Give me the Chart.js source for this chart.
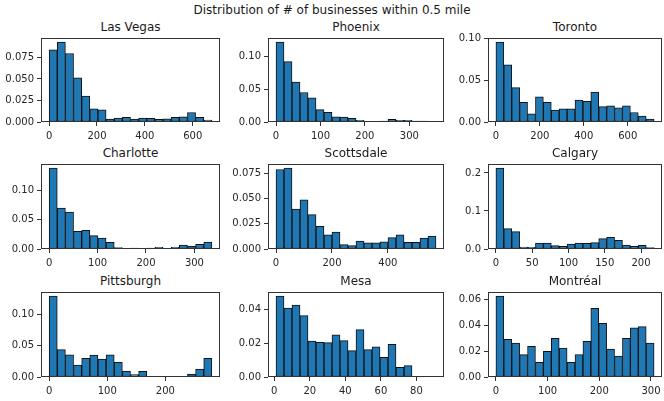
<!DOCTYPE html>
<html>
<head>
<meta charset="utf-8">
<script src="https://cdn.jsdelivr.net/npm/chart.js@4.4.0/dist/chart.umd.min.js"></script>
<style>
  body { margin: 0; background: #fff; width: 664px; height: 401px; position: relative; overflow: hidden;
         font-family: "DejaVu Sans", sans-serif; color: #1a1a1a; }
  canvas { position: absolute; }
  .t { position: absolute; font-size: 12px; line-height: 14px; text-align: center; white-space: nowrap; }
</style>
</head>
<body>
<div class="t" style="left:0;width:664px;top:3px">Distribution of # of businesses within 0.5 mile</div>
<script>
// city names, in grid order
const cities = ['Las Vegas', 'Phoenix', 'Toronto', 'Charlotte', 'Scottsdale', 'Calgary', 'Pittsburgh', 'Mesa', 'Montréal'];

// histogram heights, 20 bins each
const lasVegas   = [0.084, 0.093, 0.0796, 0.0514, 0.030, 0.0152, 0.0141, 0.0034, 0.0046, 0.0053, 0.0034, 0.0046, 0.0042, 0.003, 0.0038, 0.0053, 0.006, 0.011, 0.0053, 0.0023];
const phoenix    = [0.1226, 0.0925, 0.0613, 0.0452, 0.0372, 0.019, 0.015, 0.008, 0.0075, 0.0055, 0.0025, 0.001, 0.001, 0.0015, 0.004, 0.0025, 0.0025, 0.0015, 0.0015, 0.001];
const toronto    = [0.096, 0.0685, 0.0413, 0.0236, 0.0098, 0.0303, 0.0236, 0.0142, 0.0157, 0.0157, 0.0264, 0.0248, 0.0358, 0.0185, 0.0193, 0.0169, 0.0193, 0.0114, 0.0071, 0.0035];
const charlotte  = [0.138, 0.0699, 0.063, 0.030, 0.0318, 0.0227, 0.0188, 0.0114, 0.0023, 0, 0.0017, 0, 0.0017, 0.0028, 0.0008, 0.0028, 0.0068, 0.0051, 0.008, 0.012];
const scottsdale = [0.0786, 0.080, 0.0395, 0.0487, 0.0339, 0.0224, 0.0141, 0.0168, 0.0043, 0.0033, 0.0079, 0.0062, 0.0062, 0.0072, 0.0112, 0.0141, 0.0066, 0.0066, 0.0109, 0.0128];
const calgary    = [0.213, 0.0535, 0.0456, 0.0053, 0.0044, 0.0158, 0.0158, 0.0088, 0.007, 0.0132, 0.0158, 0.0149, 0.0167, 0.0272, 0.0307, 0.0228, 0.0105, 0.007, 0.0096, 0.0035];
const pittsburgh = [0.130, 0.0439, 0.0358, 0.0193, 0.030, 0.0353, 0.0289, 0.0358, 0.0235, 0.0096, 0.0037, 0.0091, 0, 0, 0.0005, 0, 0.001, 0.0048, 0.0128, 0.030];
const mesa       = [0.0479, 0.0408, 0.0426, 0.0363, 0.0213, 0.0205, 0.0203, 0.025, 0.0215, 0.0156, 0.028, 0.0162, 0.0179, 0.0116, 0.0193, 0.0057, 0.0067, 0.0003, 0.0003, 0.0003];
const montreal   = [0.0626, 0.0291, 0.0263, 0.0173, 0.0237, 0.0113, 0.0198, 0.0299, 0.0224, 0.0113, 0.0173, 0.0276, 0.0531, 0.0415, 0.0216, 0.0162, 0.0299, 0.0381, 0.0389, 0.0263];
const heights = [lasVegas, phoenix, toronto, charlotte, scottsdale, calgary, pittsburgh, mesa, montreal];

// data range covered by the bins
const binRanges = [[0, 680], [0, 360], [0, 720], [0, 336], [0, 572], [0, 218], [0, 280], [1, 91], [0, 306]];

// tick labels
const xTicks = [[0, 200, 400, 600], [0, 100, 200, 300], [0, 200, 400, 600],
                [0, 100, 200, 300], [0, 200, 400], [0, 50, 100, 150, 200],
                [0, 100, 200], [0, 20, 40, 60, 80], [0, 100, 200, 300]];
const yTicks = [[0, 0.025, 0.05, 0.075], [0, 0.05, 0.10], [0, 0.05, 0.10],
                [0, 0.05, 0.10], [0, 0.025, 0.05, 0.075], [0, 0.1, 0.2],
                [0, 0.05, 0.10], [0, 0.02, 0.04], [0, 0.02, 0.04, 0.06]];
const yDecimals = [3, 2, 2, 2, 3, 1, 2, 2, 2];

// plot boxes (pixels)
const colX = [[41, 220], [268, 444], [488, 662]];
const rowY = [[37, 122], [163, 249], [291, 377]];
const Y_AXIS_W = 40, PAD_TOP = 8, PAD_RIGHT = 12, X_AXIS_H = 22;

const frame = {
  id: 'frame',
  afterDraw(chart) {
    const a = chart.chartArea, ctx = chart.ctx;
    ctx.save();
    ctx.strokeStyle = '#333';
    ctx.lineWidth = 1;
    ctx.strokeRect(Math.round(a.left) + 0.5, Math.round(a.top) + 0.5,
                   Math.round(a.right - a.left) - 1, Math.round(a.bottom - a.top) - 1);
    ctx.restore();
  }
};

Chart.defaults.font.family = '"DejaVu Sans", sans-serif';
Chart.defaults.font.size = 10;
Chart.defaults.color = '#262626';

cities.forEach((city, i) => {
  const [L, R] = colX[i % 3];
  const [T, B] = rowY[Math.floor(i / 3)];

  const title = document.createElement('div');
  title.className = 't';
  title.textContent = city;
  title.style.left = L + 'px';
  title.style.width = (R - L) + 'px';
  title.style.top = (T - 17) + 'px';
  document.body.appendChild(title);

  const canvas = document.createElement('canvas');
  canvas.width = (R - L) + Y_AXIS_W + PAD_RIGHT;
  canvas.height = (B - T) + PAD_TOP + X_AXIS_H;
  canvas.style.left = (L - Y_AXIS_W) + 'px';
  canvas.style.top = (T - PAD_TOP) + 'px';
  document.body.appendChild(canvas);

  const [lo, hi] = binRanges[i];
  const h = heights[i];
  const w = (hi - lo) / h.length;
  const span = hi - lo;
  const ymax = Math.max(...h) * 1.05;

  new Chart(canvas.getContext('2d'), {
    type: 'bar',
    data: {
      datasets: [{
        data: h.map((y, k) => ({ x: lo + (k + 0.5) * w, y: y })),
        backgroundColor: '#1f77b4',
        borderColor: '#111',
        borderWidth: 1,
        borderSkipped: false,
        barPercentage: 1,
        categoryPercentage: 1
      }]
    },
    options: {
      responsive: false,
      animation: false,
      devicePixelRatio: 1,
      layout: { padding: { left: 0, top: PAD_TOP, right: PAD_RIGHT, bottom: 0 } },
      plugins: { legend: { display: false }, tooltip: { enabled: false } },
      scales: {
        x: {
          type: 'linear',
          min: lo - 0.05 * span,
          max: hi + 0.05 * span,
          offset: false,
          border: { display: false },
          grid: { drawOnChartArea: false, drawTicks: true, tickLength: 4, color: '#333', offset: false },
          ticks: { autoSkip: false, maxRotation: 0, padding: 4, callback: v => String(v) },
          afterBuildTicks: s => { s.ticks = xTicks[i].map(v => ({ value: v })); },
          afterFit: s => { s.height = X_AXIS_H; }
        },
        y: {
          min: 0,
          max: ymax,
          border: { display: false },
          grid: { drawOnChartArea: false, drawTicks: true, tickLength: 4, color: '#333' },
          ticks: { padding: 3, callback: v => Number(v).toFixed(yDecimals[i]) },
          afterBuildTicks: s => { s.ticks = yTicks[i].map(v => ({ value: v })); },
          afterFit: s => { s.width = Y_AXIS_W; }
        }
      }
    },
    plugins: [frame]
  });
});
</script>
</body>
</html>
